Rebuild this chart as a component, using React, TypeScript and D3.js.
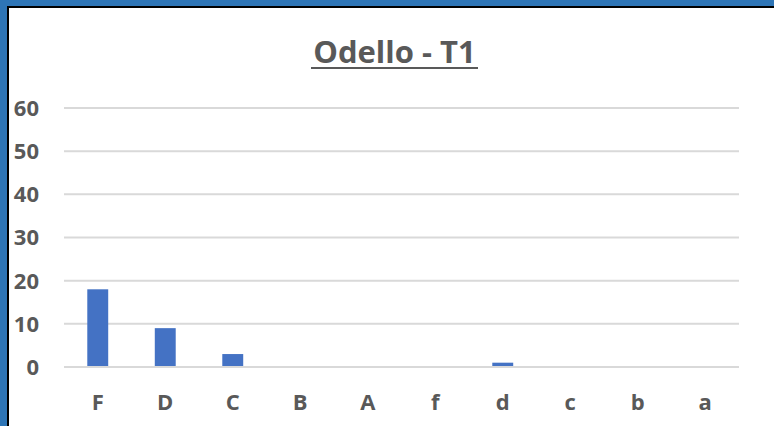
import React from "react";
import { scaleBand, scaleLinear } from "d3";

const categories = ["F", "D", "C", "B", "A", "f", "d", "c", "b", "a"];
const values = [18, 9, 3, 0, 0, 0, 1, 0, 0, 0];
const yTicks = [0, 10, 20, 30, 40, 50, 60];
const title = "Odello - T1";

const W = 774;
const H = 426;
const plot = { left: 64, right: 739, top: 108, bottom: 367 };
const textColor = "#595959";
const font = "'Open Sans', 'Noto Sans', sans-serif";

export default function App() {
  const x = scaleBand<string>()
    .domain(categories)
    .range([plot.left, plot.right])
    .paddingInner(0.69)
    .paddingOuter(0.345);

  const y = scaleLinear().domain([0, 60]).range([plot.bottom, plot.top]);

  return (
    <svg
      width={W}
      height={H}
      style={{ position: "fixed", top: 0, left: 0, display: "block" }}
    >
      <rect x={0} y={0} width={W} height={H} fill="#ffffff" />
      {/* frame: blue outside, thin black line inside */}
      <rect x={0} y={0} width={W} height={7} fill="#2E75B6" />
      <rect x={0} y={0} width={7} height={H} fill="#2E75B6" />
      <rect x={7} y={6} width={W - 7} height={2} fill="#000000" />
      <rect x={7} y={6} width={2} height={H - 6} fill="#000000" />

      <text
        x={394.5}
        y={63}
        textAnchor="middle"
        fontFamily={font}
        fontWeight="bold"
        fontSize={31}
        fill={textColor}
      >
        {title}
      </text>
      <rect x={311} y={67} width={167} height={2} fill={textColor} />

      {yTicks.map((t) => (
        <g key={t}>
          <line
            x1={plot.left}
            x2={plot.right}
            y1={y(t)}
            y2={y(t)}
            stroke="#D9D9D9"
            strokeWidth={2}
          />
          <text
            x={39}
            y={y(t)}
            dy="0.36em"
            textAnchor="end"
            fontFamily={font}
            fontWeight="bold"
            fontSize={22}
            fill={textColor}
          >
            {t}
          </text>
        </g>
      ))}

      {categories.map((c, i) =>
        values[i] > 0 ? (
          <rect
            key={c}
            x={x(c)}
            y={y(values[i])}
            width={x.bandwidth()}
            height={y(0) - y(values[i]) - 1}
            fill="#4472C4"
          />
        ) : null
      )}

      {categories.map((c) => (
        <text
          key={c}
          x={(x(c) ?? 0) + x.bandwidth() / 2}
          y={410}
          textAnchor="middle"
          fontFamily={font}
          fontWeight="bold"
          fontSize={22}
          fill={textColor}
        >
          {c}
        </text>
      ))}
    </svg>
  );
}
